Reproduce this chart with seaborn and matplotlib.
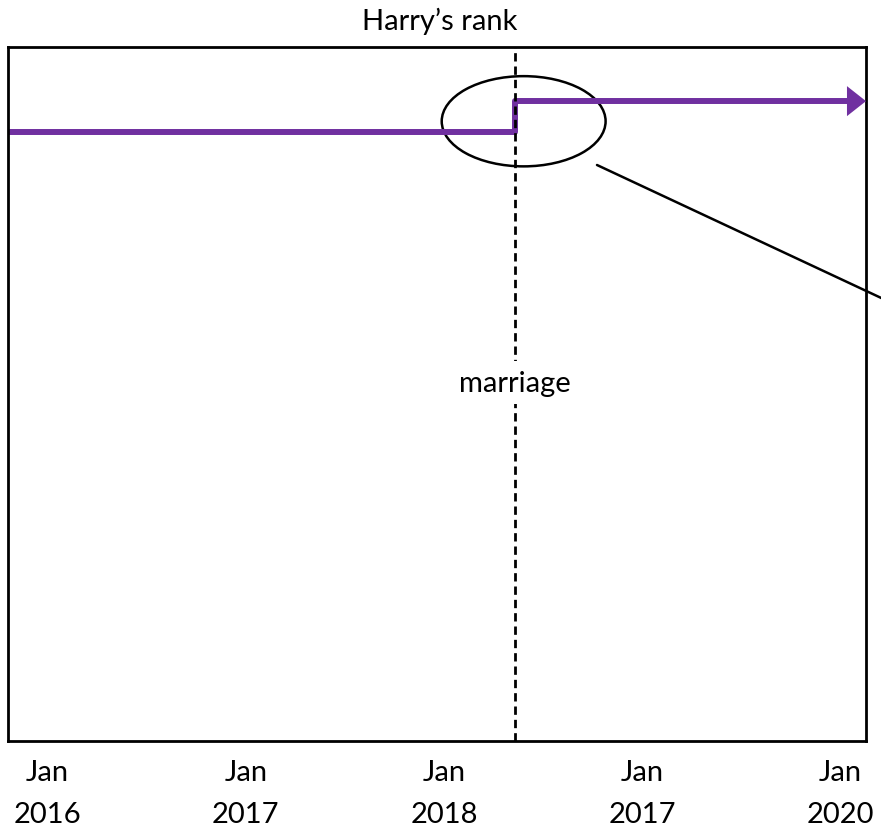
import pandas as pd
import matplotlib.pyplot as plt
import matplotlib.patches as mpatches
import matplotlib.lines as mlines
import matplotlib.transforms as mtransforms
import seaborn as sns

# ── data ────────────────────────────────────────────────────────────────
# decimal years; the step happens at the wedding (May 2018)
dates = [2015.80, 2018.36, 2020.13]
rank_score = [0.878, 0.922, 0.922]
marriage_date = 2018.36

tick_pos = [2016, 2017, 2018, 2019, 2020]
tick_labels = ["Jan\n2016", "Jan\n2017", "Jan\n2018", "Jan\n2017", "Jan\n2020"]

title = "Harry\u2019s rank"
event_label = "marriage"

purple = "#7030A0"

df = pd.DataFrame({"date": dates, "rank": rank_score})

# ── style ───────────────────────────────────────────────────────────────
sns.set_style("white")
plt.rcParams["font.family"] = ["Lato", "DejaVu Sans"]
plt.rcParams["text.color"] = "black"
plt.rcParams["xtick.color"] = "black"

fig = plt.figure(figsize=(8.81, 8.29), dpi=100)
ax = fig.add_axes([8 / 881, 1 - 742 / 829, 858 / 881, 694 / 829])

# step line (stop short of the end so the arrowhead sits on the border)
line_df = df.copy()
line_df.loc[line_df.index[-1], "date"] = dates[-1] - 0.05
sns.lineplot(data=line_df, x="date", y="rank", drawstyle="steps-post",
             color=purple, linewidth=4.3, ax=ax)

# arrowhead at the right end
ax.annotate("", xy=(dates[-1], rank_score[-1]),
            xytext=(dates[-1] - 0.12, rank_score[-1]),
            arrowprops=dict(arrowstyle="-|>,head_length=1.37,head_width=1.08",
                            mutation_scale=10, color=purple, lw=0,
                            shrinkA=0, shrinkB=0))

# marriage marker
ax.axvline(marriage_date, color="black", linewidth=2.0, dashes=(3, 1.8))
trans = mtransforms.blended_transform_factory(ax.transData, ax.transAxes)
ax.text(marriage_date, 0.516, event_label, transform=trans, ha="center",
        va="center", fontsize=21, color="black",
        bbox=dict(facecolor="white", edgecolor="none", pad=6))

# ellipse around the step
ell = mpatches.Ellipse((0.601, 0.893), 0.191, 0.130, transform=ax.transAxes,
                       fill=False, edgecolor="black", linewidth=1.8)
ax.add_patch(ell)

# pointer line running off the right edge
pointer = mlines.Line2D([597 / 881, 1.01], [1 - 166 / 829, 1 - 303 / 829],
                        transform=fig.transFigure, color="black",
                        linewidth=1.8, clip_on=False)
fig.add_artist(pointer)

# axes
ax.set_xlim(dates[0], dates[-1])
ax.set_ylim(0, 1)
ax.set_xticks(tick_pos)
ax.set_xticklabels(tick_labels, fontsize=21, linespacing=1.75)
ax.tick_params(axis="x", length=0, pad=13)
ax.set_yticks([])
ax.set_xlabel("")
ax.set_ylabel("")
for spine in ax.spines.values():
    spine.set_visible(True)
    spine.set_color("black")
    spine.set_linewidth(2.0)

fig.text(440 / 881, 1 - 30 / 829, title, ha="center", va="baseline",
         fontsize=21, color="black")

fig.savefig("out.png", dpi=100)
plt.close(fig)
